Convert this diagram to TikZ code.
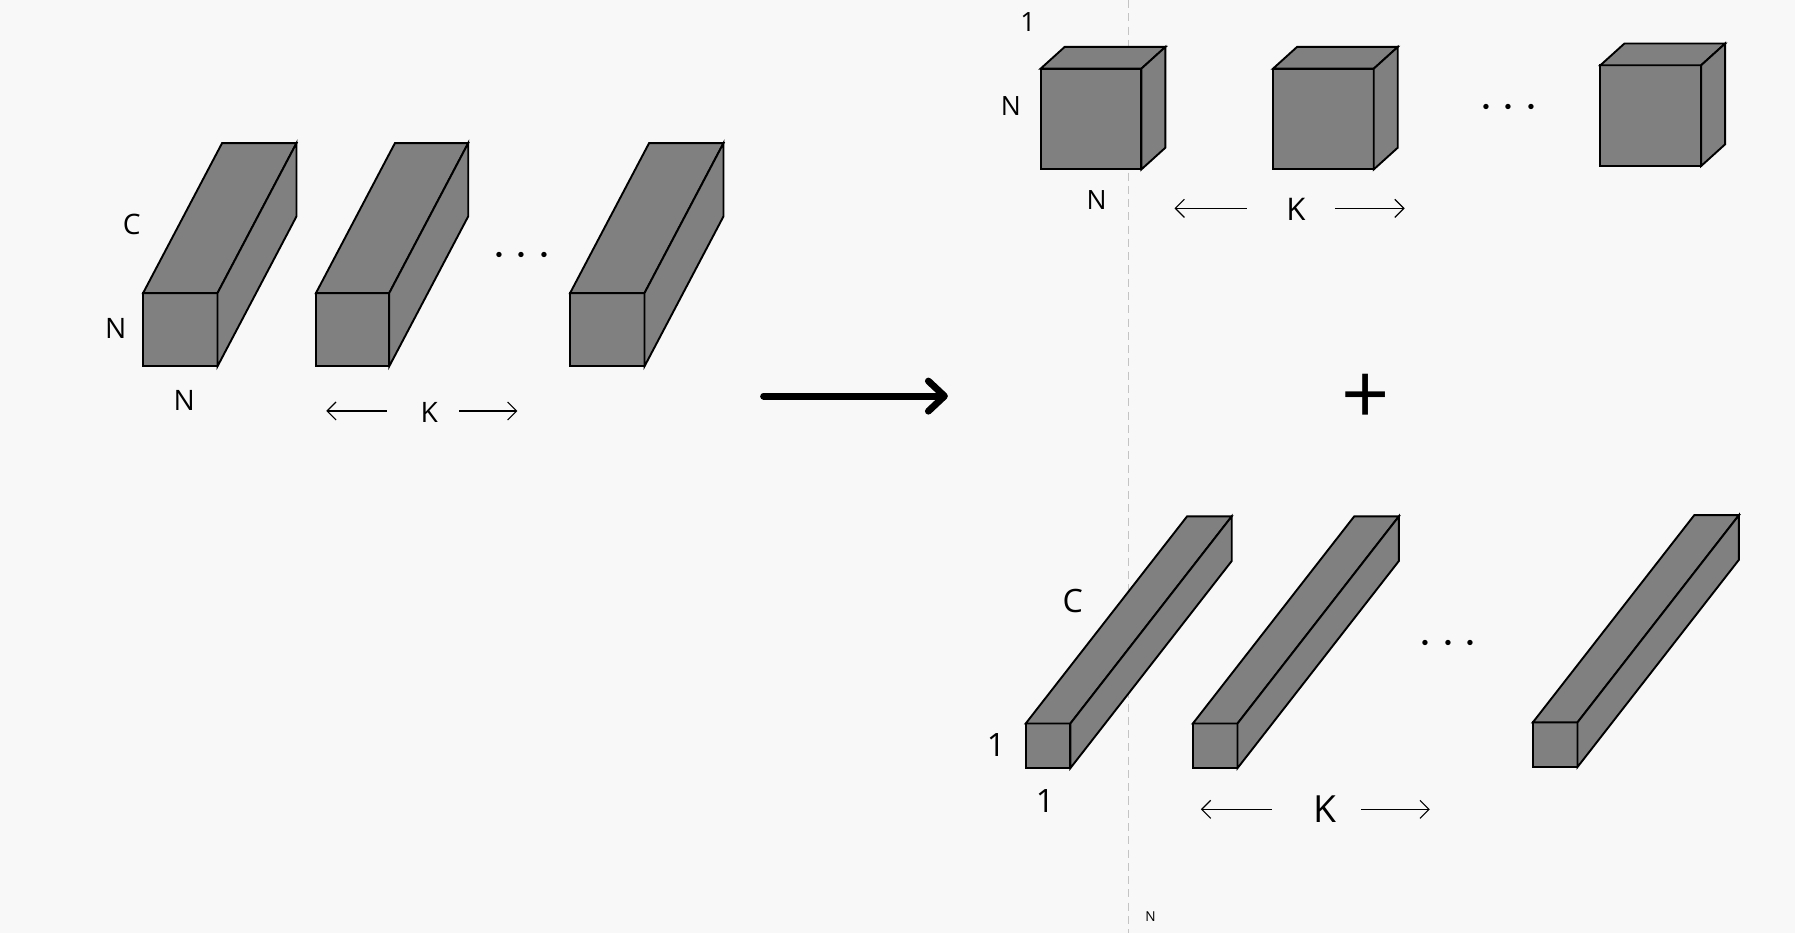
\documentclass[tikz,border=0pt]{standalone}
\usepackage{fontspec}
\setmainfont{Open Sans}
\usetikzlibrary{arrows.meta}
\definecolor{bgc}{HTML}{F8F8F8}
\definecolor{boxgray}{HTML}{808080}
\definecolor{dashgray}{HTML}{C4C4C4}
% #1,#2 front top-left; #3 width; #4 height; #5 dx; #6 dy (up)
\newcommand\drawcuboid[6]{%
  \filldraw[boxface] (#1,#2) rectangle ({#1+#3},{#2+#4});
  \filldraw[boxface] (#1,#2) -- ({#1+#5},{#2-#6}) -- ({#1+#3+#5},{#2-#6}) -- ({#1+#3},#2) -- cycle;
  \filldraw[boxface] ({#1+#3},#2) -- ({#1+#3+#5},{#2-#6}) -- ({#1+#3+#5},{#2+#4-#6}) -- ({#1+#3},{#2+#4}) -- cycle;
}
\begin{document}
\begin{tikzpicture}[x=0.02cm,y=-0.02cm,
  boxface/.style={fill=boxgray,draw=black,line width=0.95pt,line join=miter},
  lblA/.style={inner sep=0pt,font=\fontsize{14}{14}\selectfont},
  lblB/.style={inner sep=0pt,font=\fontsize{13.2}{14}\selectfont},
  lblC/.style={inner sep=0pt,font=\fontsize{16}{16}\selectfont},
  dotsn/.style={inner sep=0pt,font=\fontsize{24}{24}\selectfont},
  karrow/.style={-{Straight Barb[length=4.5pt,width=9pt]},line width=0.55pt},
  bigarrow/.style={-{Straight Barb[length=8pt,width=15pt,line cap=round,line join=round]},line width=3.4pt,line cap=round},
]
\fill[bgc] (0,0) rectangle (1568,815);
\useasboundingbox (0,0) rectangle (1568,815);
% dashed guide
\draw[dashgray,line width=0.6pt,dash pattern=on 4pt off 2.6pt] (986,0) -- (986,815);

% ---- left group ----
\drawcuboid{125}{256}{65}{64}{69}{131}
\drawcuboid{276}{256}{64}{64}{69}{131}
\drawcuboid{498}{256}{65}{64}{69}{131}
\node[lblA] (lc) at (115,196) {C};
\node[lblA] (ln1) at (101,287) {N};
\node[lblA] (ln2) at (161,350) {N};
\node[dotsn] (ldots) at (456,224) {$\cdots$};
\node[lblA] (lk) at (375,360) {K};
\coordinate (lkl) at (285,359);
\coordinate (lkr) at (452,359);
\coordinate (lkls) at (338,359);
\coordinate (lkrs) at (401,359);
\draw[karrow] (lkls) -- (lkl);
\draw[karrow] (lkrs) -- (lkr);

% ---- big arrow ----
\coordinate (ba1) at (667,346);
\coordinate (ba2) at (828,346);
\draw[bigarrow] (ba1) -- (ba2);

% ---- top right cubes ----
\drawcuboid{909}{60}{88}{88}{21}{19}
\drawcuboid{1112}{60}{88}{88}{21}{19}
\drawcuboid{1398}{57}{88}{88}{21}{19}
\node[lblB] (t1) at (898,19) {1};
\node[lblB] (tn1) at (883,93) {N};
\node[lblB] (tn2) at (958,175) {N};
\node[dotsn] (tdots) at (1318,95) {$\cdots$};
\node[inner sep=0pt,font=\fontsize{15.5}{16}\selectfont] (tk) at (1132,183) {K};
\coordinate (tkl) at (1026,182);
\coordinate (tkr) at (1227,182);
\coordinate (tkls) at (1089,182);
\coordinate (tkrs) at (1166,182);
\draw[karrow] (tkls) -- (tkl);
\draw[karrow] (tkrs) -- (tkr);

% ---- plus ----
\node[inner sep=0pt,font=\fontsize{42}{42}\selectfont] (plus) at (1193,349) {+};

% ---- bottom right rods ----
\drawcuboid{896}{632}{39}{39}{141}{181}
\drawcuboid{1042}{632}{39}{39}{141}{181}
\drawcuboid{1339}{631}{39}{39}{141}{181}
\node[lblC] (bc) at (937,525) {C};
\node[lblC] (b1) at (870,651) {1};
\node[lblC] (b2) at (913,700) {1};
\node[dotsn] (bdots) at (1265,563) {$\cdots$};
\node[inner sep=0pt,font=\fontsize{18.6}{19}\selectfont] (bk) at (1157,707) {K};
\coordinate (bkl) at (1049,707);
\coordinate (bkr) at (1249,707);
\coordinate (bkls) at (1111,707);
\coordinate (bkrs) at (1189,707);
\draw[karrow] (bkls) -- (bkl);
\draw[karrow] (bkrs) -- (bkr);

% ---- tiny label ----
\node[inner sep=0pt,font=\fontsize{6.8}{7}\selectfont] (tiny) at (1005,801) {N};
\end{tikzpicture}
\end{document}
